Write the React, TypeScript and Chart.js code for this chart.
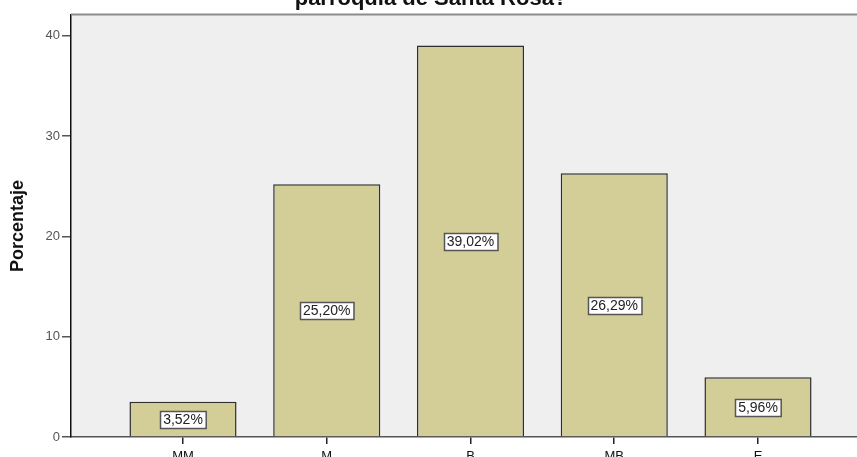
import React, { useEffect, useRef } from 'react';
import { Chart, registerables } from 'chart.js';

Chart.register(...registerables);

const categories = ['MM', 'M', 'B', 'MB', 'E'];
const percentages = [3.52, 25.2, 39.02, 26.29, 5.96];
const valueLabels = ['3,52%', '25,20%', '39,02%', '26,29%', '5,96%'];
const yTickValues = [0, 10, 20, 30, 40];
const titleText = 'parroquia de Santa Rosa?';
const yAxisTitle = 'Porcentaje';

const CANVAS_W = 900;
const CANVAS_H = 480;
const FONT = "'Liberation Sans', Arial, Helvetica, sans-serif";

export default function App() {
  const ref = useRef<HTMLCanvasElement | null>(null);

  useEffect(() => {
    const canvas = ref.current;
    if (!canvas) return;

    const plotLeft = 71;
    const firstCenter = 183;
    const step = 143.75;
    const xMin = -(firstCenter - plotLeft) / step;
    const xMax = xMin + (CANVAS_W - plotLeft) / step;

    const bgPlugin = {
      id: 'bgPlugin',
      beforeDraw(chart: any) {
        const { ctx, chartArea } = chart;
        ctx.save();
        ctx.fillStyle = '#ffffff';
        ctx.fillRect(0, 0, chart.width, chart.height);
        ctx.fillStyle = '#efefef';
        ctx.fillRect(chartArea.left, chartArea.top, chartArea.right - chartArea.left, chartArea.bottom - chartArea.top);
        ctx.restore();
      },
      afterDraw(chart: any) {
        const { ctx, chartArea } = chart;
        ctx.save();
        ctx.strokeStyle = '#8c8c8c';
        ctx.lineWidth = 2;
        ctx.beginPath();
        ctx.moveTo(chartArea.left, chartArea.top - 0.5);
        ctx.lineTo(chartArea.right, chartArea.top - 0.5);
        ctx.stroke();
        // title (second line, partially outside the view)
        ctx.fillStyle = '#111';
        ctx.font = `bold 22px ${FONT}`;
        ctx.textAlign = 'center';
        ctx.textBaseline = 'alphabetic';
        ctx.fillText(titleText, 431, 5);
        ctx.restore();
      },
    };

    const labelPlugin = {
      id: 'labelPlugin',
      afterDatasetsDraw(chart: any) {
        const { ctx } = chart;
        const meta = chart.getDatasetMeta(0);
        const yScale = chart.scales.y;
        ctx.save();
        ctx.font = `14px ${FONT}`;
        ctx.textAlign = 'center';
        ctx.textBaseline = 'middle';
        meta.data.forEach((bar: any, i: number) => {
          const txt = valueLabels[i];
          const cx = bar.x;
          const cy = yScale.getPixelForValue(percentages[i] / 2);
          const w = ctx.measureText(txt).width + 6;
          const h = 17;
          const x0 = Math.round(cx - w / 2) + 0.5;
          const y0 = Math.round(cy - h / 2) + 0.5;
          ctx.fillStyle = '#ffffff';
          ctx.fillRect(x0, y0, w, h);
          ctx.strokeStyle = '#555555';
          ctx.lineWidth = 1.5;
          ctx.strokeRect(x0, y0, w, h);
          ctx.fillStyle = '#222';
          ctx.fillText(txt, cx, cy + 1);
        });
        ctx.restore();
      },
    };

    const chart = new Chart(canvas, {
      type: 'bar',
      data: {
        datasets: [
          {
            data: percentages.map((v, i) => ({ x: i, y: v })),
            backgroundColor: '#d3ce98',
            borderColor: '#2e2e2e',
            borderWidth: 1.5,
            barPercentage: 0.745,
            categoryPercentage: 1,
          },
        ],
      },
      options: {
        responsive: false,
        animation: false,
        devicePixelRatio: 1,
        layout: { padding: { top: 15, left: 0, right: 0, bottom: 0 } },
        plugins: {
          legend: { display: false },
          title: { display: false },
          tooltip: { enabled: false },
        },
        scales: {
          x: {
            type: 'linear',
            min: xMin,
            max: xMax,
            offset: false,
            afterBuildTicks: (scale: any) => {
              scale.ticks = categories.map((_, i) => ({ value: i }));
            },
            afterFit: (scale: any) => {
              scale.height = CANVAS_H - 437;
            },
            grid: {
              offset: false,
              drawOnChartArea: false,
              drawTicks: true,
              tickLength: 7,
              color: '#222',
              lineWidth: 1.5,
            },
            border: { display: true, color: '#555', width: 1.5 },
            ticks: {
              padding: 5,
              maxRotation: 0,
              autoSkip: false,
              color: '#111',
              font: { family: FONT, size: 13 },
              callback: (v: any) => categories[Math.round(Number(v))] ?? '',
            },
          },
          y: {
            type: 'linear',
            min: 0,
            max: 42.07,
            afterBuildTicks: (scale: any) => {
              scale.ticks = yTickValues.map((v) => ({ value: v }));
            },
            afterFit: (scale: any) => {
              scale.width = 71;
            },
            grid: {
              drawOnChartArea: false,
              drawTicks: true,
              tickLength: 9,
              color: '#555',
              lineWidth: 1.5,
            },
            border: { display: true, color: '#111', width: 1.5 },
            ticks: {
              padding: 2,
              includeBounds: false,
              color: '#555',
              font: { family: FONT, size: 13 },
            },
            title: {
              display: true,
              text: yAxisTitle,
              color: '#111',
              font: { family: FONT, size: 18, weight: 'bold' },
              padding: { top: 7, bottom: 0 },
            },
          },
        },
      },
      plugins: [bgPlugin, labelPlugin],
    } as any);

    return () => chart.destroy();
  }, []);

  return (
    <div
      style={{
        position: 'fixed',
        left: 0,
        top: 0,
        width: 857,
        height: 457,
        overflow: 'hidden',
        background: '#fff',
      }}
    >
      <canvas
        ref={ref}
        width={CANVAS_W}
        height={CANVAS_H}
        style={{ display: 'block', width: CANVAS_W, height: CANVAS_H }}
      />
    </div>
  );
}
